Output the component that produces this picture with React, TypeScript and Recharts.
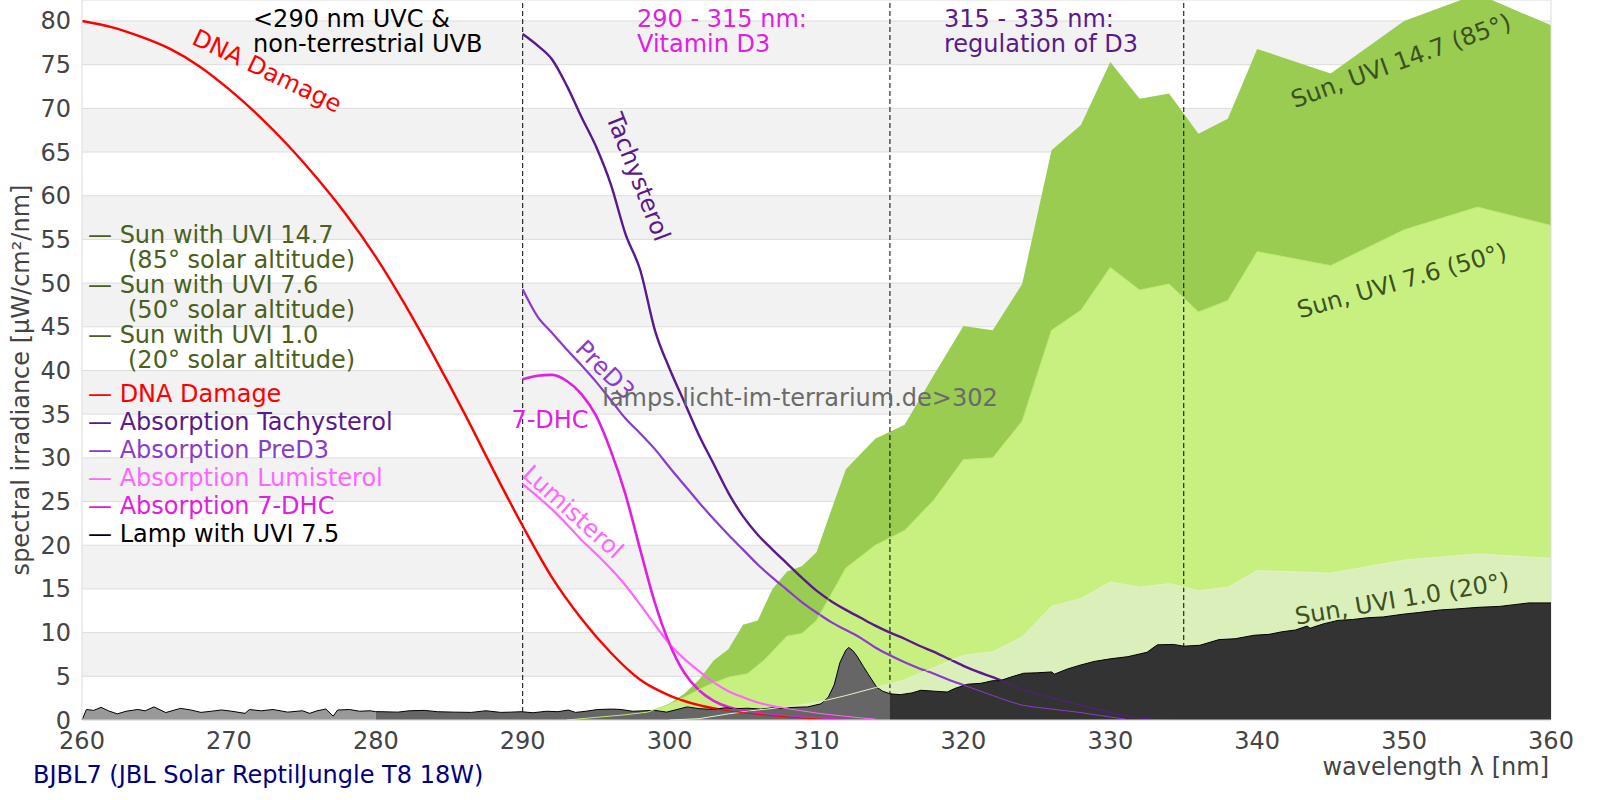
import React from "react";
import {
  ComposedChart,
  Area,
  Line,
  XAxis,
  YAxis,
  CartesianGrid,
  ReferenceLine,
} from "recharts";

const FONT = '"DejaVu Sans", Verdana, sans-serif';

// axis ticks
const xTicks = [260, 270, 280, 290, 300, 310, 320, 330, 340, 350, 360];
const yTicks = [0, 5, 10, 15, 20, 25, 30, 35, 40, 45, 50, 55, 60, 65, 70, 75, 80];
const bandEdges = [290, 315, 335];

// sun spectra, [nm, µW/cm²/nm]
const sunUvi147 = [
  [293, 0], [296, 0.4], [298, 0.9], [299, 1.2], [300, 1.9], [301, 3.0], [302, 4.6],
  [303, 6.8], [304, 8.1], [305, 10.9], [306, 11.4], [307, 15.0], [308, 17.0],
  [309, 17.6], [310, 19.2], [311, 24.0], [312, 28.7], [314, 32.2], [316, 33.8],
  [318, 39.5], [320, 45.1], [322, 44.6], [324, 49.9], [326, 65.2], [328, 68.1],
  [330, 75.3], [332, 71.1], [334, 71.7], [336, 67.1], [338, 68.8], [340, 76.8],
  [345, 74.0], [350, 80.0], [355, 83.1], [360, 79.5],
];
const sunUvi76 = [
  [293, 0], [295, 0.3], [297, 0.6], [298.5, 0.9], [300, 1.8], [301, 2.6], [302.5, 3.9],
  [304, 4.9], [305.3, 5.3], [306.4, 6.8], [308, 9.6], [309, 9.9], [310, 11.4],
  [312, 17.4], [314, 20.0], [316, 21.7], [318, 25.2], [320, 29.8], [322, 30.0],
  [324, 34.2], [326, 44.6], [328, 46.9], [330, 51.8], [332, 49.2], [334, 49.9],
  [336, 46.7], [338, 48.0], [340, 53.6], [345, 52.0], [350, 56.1], [355, 58.7],
  [360, 56.6],
];
const sunUvi10 = [
  [300, 0], [302, 0.15], [304, 0.7], [306, 1.15], [308, 1.5], [310, 2.0], [312, 2.8],
  [314, 3.7], [316, 4.6], [318, 6.0], [320, 7.4], [322, 7.8], [324, 9.5], [326, 13.0],
  [328, 13.9], [330, 15.8], [332, 15.2], [334, 15.6], [336, 14.8], [338, 15.2],
  [340, 17.1], [345, 16.8], [350, 18.3], [355, 19.0], [360, 18.5],
];

// lamp spectrum (BJBL7)
const lampSpectrum = [
  [260.0, 0], [260.3, 1.2], [260.8, 1.1], [261.3, 1.45], [261.8, 1.05], [262.4, 0.7],
  [263.0, 1.0], [263.8, 1.2], [264.3, 1.05], [264.9, 1.5], [265.7, 0.85], [266.7, 1.33],
  [267.4, 1.15], [268.1, 0.87], [268.8, 1.0], [269.5, 1.15], [270.2, 1.0], [271.1, 0.76],
  [271.4, 1.2], [272.2, 1.05], [273.0, 1.2], [274.0, 0.9], [275.0, 1.06], [275.5, 0.76],
  [276.0, 1.05], [276.6, 1.25], [277.1, 0.45], [277.4, 1.14], [278.2, 1.2], [278.9, 1.0],
  [279.6, 1.06], [280.0, 0.95], [280.4, 0.95], [281.5, 0.9], [282.3, 1.06], [283.3, 1.1],
  [284.2, 0.95], [285.3, 0.9], [286.5, 0.87], [287.5, 1.06], [288.5, 0.87], [289.2, 0.9],
  [289.9, 0.95], [290.7, 0.83], [291.6, 1.0], [292.4, 0.95], [293.1, 1.14], [293.6, 0.87],
  [294.3, 1.0], [295.1, 1.2], [296.1, 1.25], [296.7, 1.2], [297.5, 1.0], [298.2, 1.05],
  [299.0, 1.1], [299.8, 0.9], [300.5, 1.2], [301.2, 1.5], [302.0, 1.3], [303.0, 1.2],
  [303.8, 1.4], [304.5, 1.3], [305.3, 1.35], [306.2, 1.25], [307.0, 1.4], [307.5, 1.3],
  [308.4, 1.45], [309.4, 1.5], [310.3, 1.85], [310.8, 2.6], [311.2, 4.0], [311.6, 6.6],
  [312.0, 8.0], [312.2, 8.3], [312.5, 7.9], [312.8, 7.2], [313.2, 6.1], [313.5, 5.3],
  [314.1, 3.75], [314.5, 3.3], [315.0, 3.0], [315.7, 2.9], [316.5, 3.1], [317.1, 3.4],
  [318.0, 3.3], [318.9, 3.2], [319.4, 3.6], [320.3, 4.1], [321.2, 4.2], [322.0, 4.5],
  [322.5, 4.5], [323.2, 4.9], [324.1, 5.35], [325.0, 5.4], [326.0, 5.5], [326.2, 5.25],
  [327.1, 5.85], [328.0, 6.3], [328.9, 6.7], [330.0, 7.0], [331.2, 7.25], [332.5, 7.75],
  [333.2, 8.6], [334.3, 8.65], [335.0, 8.45], [336.1, 8.55], [337.4, 9.2], [338.5, 9.3],
  [339.8, 9.7], [340.8, 9.8], [341.7, 10.1], [342.6, 10.3], [343.4, 10.75], [343.6, 10.5],
  [344.5, 11.0], [345.5, 11.4], [346.5, 11.5], [347.5, 11.7], [348.6, 11.8], [349.9, 12.1],
  [351.0, 12.3], [352.5, 12.6], [353.5, 12.7], [355.1, 12.9], [356.5, 13.0], [357.5, 13.2],
  [358.5, 13.4], [360.0, 13.4],
];

// action / absorption spectra, scaled to the chart
const dnaDamage = [
  [260, 80.0], [262, 79.3], [264, 78.2], [266, 76.8], [268, 74.8], [270, 72.2],
  [272, 69.2], [274, 65.8], [276, 62.0], [278, 57.8], [280, 53.0], [282, 47.5],
  [284, 41.5], [286, 35.2], [288, 28.6], [290, 22.2], [292, 16.3], [294, 11.6],
  [296, 7.7], [298, 4.6], [300, 2.8], [302, 1.7], [304, 1.05], [306, 0.65],
  [308, 0.35], [310, 0.15], [312, 0.03],
];
const tachysterol = [
  [290, 78.5], [291, 77.2], [292, 75.6], [293, 72.6], [294, 69.0], [295, 65.6],
  [296, 61.3], [297, 55.6], [298, 51.5], [299, 44.6], [300, 40.2], [301, 36.4],
  [302, 32.6], [303, 29.3], [304, 26.0], [305, 23.3], [306, 21.2], [307, 19.5],
  [308, 17.9], [309, 16.3], [310, 14.8], [311, 13.6], [312, 12.6], [313, 11.7],
  [314, 10.8], [315, 10.0], [316, 9.3], [317, 8.5], [318, 7.8], [319, 7.0], [320, 6.2],
  [321, 5.5], [322, 4.9], [323, 4.2], [324, 3.5], [325, 3.0], [326, 2.55], [327, 2.1],
  [328, 1.7], [329, 1.25], [330, 0.85], [331, 0.5], [332, 0.25], [333, 0.05], [334, 0],
];
const preD3 = [
  [290, 49.3], [291, 46.2], [292, 44.3], [293, 42.4], [294, 40.6], [295, 38.7],
  [296, 36.6], [297, 34.5], [298, 32.8], [299, 31.0], [300, 28.9], [301, 26.9],
  [302, 24.9], [303, 23.0], [304, 21.2], [305, 19.5], [306, 17.8], [307, 16.3],
  [308, 14.9], [309, 13.5], [310, 12.3], [311, 11.2], [312, 10.3], [313, 9.4],
  [314, 8.3], [315, 7.4], [316, 6.6], [317, 5.9], [318, 5.3], [319, 4.6], [320, 4.0],
  [321, 3.4], [322, 2.8], [323, 2.2], [324, 1.7], [325, 1.45], [326, 1.25], [327, 1.05],
  [328, 0.85], [329, 0.6], [330, 0.35], [331, 0.1],
];
const lumisterol = [
  [290, 27.0], [291, 25.6], [292, 24.1], [293, 22.4], [294, 20.6], [295, 19.0],
  [296, 17.3], [297, 15.4], [298, 13.2], [299, 10.9], [300, 8.7], [301, 7.0],
  [302, 5.6], [303, 4.3], [304, 3.3], [305, 2.6], [306, 2.0], [307, 1.6], [308, 1.3],
  [309, 1.05], [310, 0.8], [311, 0.6], [312, 0.42], [313, 0.25], [314, 0.1],
];
const dhc7 = [
  [290, 39.0], [291, 39.4], [292, 39.5], [293, 38.8], [294, 37.3], [295, 34.8],
  [296, 30.8], [297, 25.8], [298, 19.5], [299, 13.4], [300, 8.7], [301, 5.4],
  [302, 3.4], [303, 2.2], [304, 1.5], [305, 1.1], [306, 0.85], [307, 0.65], [308, 0.5],
  [309, 0.35], [310, 0.25], [311, 0.15], [312, 0.08], [313, 0.03],
];

const legendSun = [
  ["— Sun with UVI 14.7", "(85° solar altitude)"],
  ["— Sun with UVI 7.6", "(50° solar altitude)"],
  ["— Sun with UVI 1.0", "(20° solar altitude)"],
];
const legendOther = [
  "— DNA Damage",
  "— Absorption Tachysterol",
  "— Absorption PreD3",
  "— Absorption Lumisterol",
  "— Absorption 7-DHC",
  "— Lamp with UVI 7.5",
];

const C = {
  sun147: "#99cc50",
  sun76: "#c8f080",
  sun10: "#dbefbb",
  olive: "#4a6020",
  oliveLabel: "#3d5021",
  dna: "#ff0000",
  tachy: "#5a1a8c",
  pre: "#8a3ccc",
  lumi: "#ff66ff",
  dhc: "#e020e0",
  tick: "#444444",
};

const toPts = (rows: number[][]) => rows.map(([x, y]) => ({ x, y }));

const curves = [
  { key: "dna", rows: dnaDamage, color: C.dna, width: 2.4 },
  { key: "tachy", rows: tachysterol, color: C.tachy, width: 2.4 },
  { key: "pre", rows: preD3, color: C.pre, width: 2.2 },
  { key: "lumi", rows: lumisterol, color: C.lumi, width: 2.2 },
  { key: "dhc", rows: dhc7, color: C.dhc, width: 2.6 },
];

export default function App() {
  const lamp = toPts(lampSpectrum);
  const lampA = lamp.filter((p) => p.x <= 280);
  const lampB = lamp.filter((p) => p.x >= 280 && p.x <= 315);
  const lampC = lamp.filter((p) => p.x >= 315);

  const txt = { fontFamily: FONT, fontSize: 24 } as const;

  return (
    <div style={{ position: "relative", width: 1600, height: 800 }}>
      <style>{"body{margin:0}"}</style>
      <ComposedChart
        width={1600}
        height={800}
        margin={{ top: 0, right: 49, bottom: 0, left: 0 }}
      >
        <CartesianGrid
          vertical={false}
          stroke="#dddddd"
          horizontalFill={["#ffffff", "#f2f2f2"]}
          fillOpacity={1}
        />
        <XAxis
          type="number"
          dataKey="x"
          domain={[260, 360]}
          ticks={xTicks}
          height={80}
          tickSize={0}
          tickMargin={12}
          axisLine={{ stroke: "#dddddd" }}
          tick={{ fill: C.tick, fontSize: 24, fontFamily: FONT }}
        />
        <YAxis
          type="number"
          dataKey="y"
          domain={[0, 82.4]}
          allowDataOverflow
          ticks={yTicks}
          width={82}
          tickSize={0}
          tickMargin={11}
          axisLine={{ stroke: "#dddddd" }}
          tick={{ fill: C.tick, fontSize: 24, fontFamily: FONT }}
        />

        <Area data={toPts(sunUvi147)} dataKey="y" type="linear" fill={C.sun147} fillOpacity={1} stroke="none" isAnimationActive={false} zIndex={100} />
        <Area data={toPts(sunUvi76)} dataKey="y" type="linear" fill={C.sun76} fillOpacity={1} stroke="none" isAnimationActive={false} zIndex={101} />
        <Area data={toPts(sunUvi10)} dataKey="y" type="linear" fill={C.sun10} fillOpacity={1} stroke="none" isAnimationActive={false} zIndex={102} />

        {bandEdges.map((b) => (
          <ReferenceLine key={b} x={b} stroke="#000" strokeWidth={1} strokeDasharray="5 3" zIndex={150} />
        ))}
        <ReferenceLine x={360} stroke="#dddddd" zIndex={150} />

        {curves.map((c) => (
          <Line
            key={c.key}
            data={toPts(c.rows)}
            dataKey="y"
            type="monotone"
            stroke={c.color}
            strokeWidth={c.width}
            dot={false}
            activeDot={false}
            isAnimationActive={false}
            zIndex={200}
          />
        ))}

        <Area data={lampA} dataKey="y" type="linear" fill="#999999" fillOpacity={1} stroke="#000" strokeWidth={1} isAnimationActive={false} zIndex={300} />
        <Area data={lampB} dataKey="y" type="linear" fill="#666666" fillOpacity={1} stroke="#000" strokeWidth={1} isAnimationActive={false} zIndex={301} />
        <Area data={lampC} dataKey="y" type="linear" fill="#333333" fillOpacity={1} stroke="#000" strokeWidth={1} isAnimationActive={false} zIndex={302} />

        <Line data={toPts(sunUvi76)} dataKey="y" type="linear" stroke="#bfe873" strokeWidth={1} dot={false} activeDot={false} isAnimationActive={false} zIndex={400} />
        <Line data={toPts(sunUvi10)} dataKey="y" type="linear" stroke="#e2f2c6" strokeWidth={1} dot={false} activeDot={false} isAnimationActive={false} zIndex={400} />
        {curves.map((c) => (
          <Line
            key={c.key + "-thin"}
            data={toPts(c.rows)}
            dataKey="y"
            type="monotone"
            stroke={c.color}
            strokeWidth={1}
            dot={false}
            activeDot={false}
            isAnimationActive={false}
            zIndex={401}
          />
        ))}
      </ComposedChart>

      <svg
        width={1600}
        height={800}
        style={{ position: "absolute", left: 0, top: 0, pointerEvents: "none" }}
      >
        {/* region captions */}
        <text {...txt} x={253} y={27} fill="#000">&lt;290 nm UVC &amp;</text>
        <text {...txt} x={253} y={52} fill="#000">non-terrestrial UVB</text>
        <text {...txt} x={637} y={27} fill={C.dhc}>290 - 315 nm:</text>
        <text {...txt} x={637} y={52} fill={C.dhc}>Vitamin D3</text>
        <text {...txt} x={944} y={27} fill={C.tachy}>315 - 335 nm:</text>
        <text {...txt} x={944} y={52} fill={C.tachy}>regulation of D3</text>

        {/* curve labels */}
        <text {...txt} fill={C.dna} textAnchor="middle" dominantBaseline="central" transform="translate(267,71) rotate(25.5)">DNA Damage</text>
        <text {...txt} fill={C.tachy} textAnchor="middle" dominantBaseline="central" transform="translate(638,177) rotate(68.5)">Tachysterol</text>
        <text {...txt} fill={C.pre} textAnchor="middle" dominantBaseline="central" transform="translate(605,370) rotate(45)">PreD3</text>
        <text {...txt} fill={C.dhc} textAnchor="middle" dominantBaseline="central" x={550} y={420}>7-DHC</text>
        <text {...txt} fill={C.lumi} textAnchor="middle" dominantBaseline="central" transform="translate(573,512) rotate(42)">Lumisterol</text>
        <text {...txt} fill={C.oliveLabel} textAnchor="middle" dominantBaseline="central" transform="translate(1401,61) rotate(-20)">Sun, UVI 14.7 (85°)</text>
        <text {...txt} fill={C.oliveLabel} textAnchor="middle" dominantBaseline="central" transform="translate(1402,281) rotate(-16)">Sun, UVI 7.6 (50°)</text>
        <text {...txt} fill={C.oliveLabel} textAnchor="middle" dominantBaseline="central" transform="translate(1402,599) rotate(-9.5)">Sun, UVI 1.0 (20°)</text>

        {/* legend */}
        {legendSun.map(([a, b], i) => (
          <g key={a}>
            <text {...txt} x={88} y={243 + i * 50} fill={C.olive}>{a}</text>
            <text {...txt} x={128} y={268 + i * 50} fill={C.olive}>{b}</text>
          </g>
        ))}
        {legendOther.map((t, i) => (
          <text
            key={t}
            {...txt}
            x={88}
            y={402 + i * 28}
            fill={[C.dna, C.tachy, C.pre, C.lumi, C.dhc, "#000"][i]}
          >
            {t}
          </text>
        ))}

        {/* watermark & axis titles */}
        <text {...txt} x={800} y={398} fill="#6a6a6a" textAnchor="middle" dominantBaseline="central">
          lamps.licht-im-terrarium.de&gt;302
        </text>
        <text {...txt} fill={C.tick} textAnchor="middle" transform="translate(29,380) rotate(-90)">
          spectral irradiance [µW/cm²/nm]
        </text>
        <text {...txt} x={1549} y={775} fill={C.tick} textAnchor="end">wavelength λ [nm]</text>
        <text {...txt} x={33} y={783} fill="#000080">BJBL7 (JBL Solar ReptilJungle T8 18W)</text>
      </svg>
    </div>
  );
}
